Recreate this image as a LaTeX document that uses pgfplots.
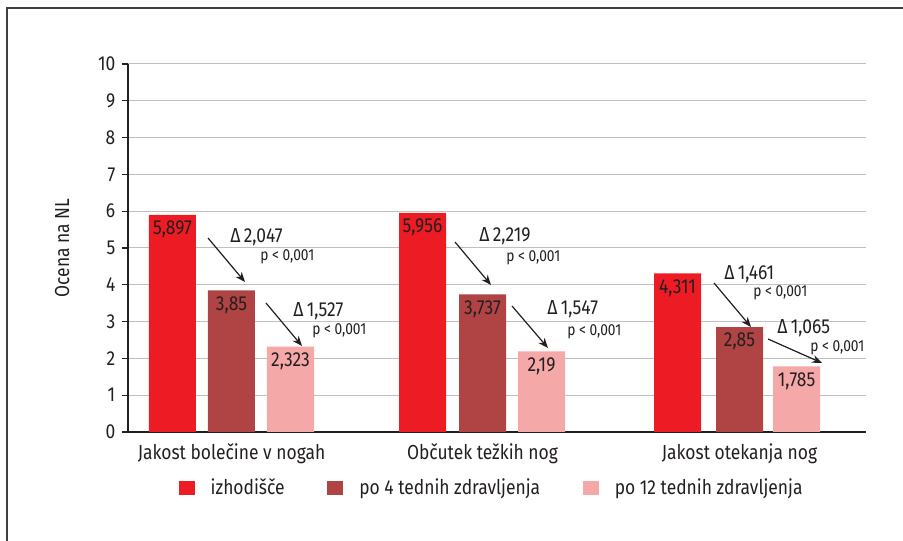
\documentclass[border=0pt]{standalone}
\usepackage{fontspec}
\setmainfont{Fira Sans}[FakeStretch=0.86]
\usepackage{pgfplots}
\pgfplotsset{compat=1.18}
\usetikzlibrary{arrows.meta}
\definecolor{cRed}{RGB}{237,28,36}
\definecolor{cDark}{RGB}{176,68,68}
\definecolor{cPink}{RGB}{245,168,168}
\definecolor{cText}{RGB}{35,31,32}
\definecolor{cGrid}{RGB}{192,192,192}
\newcommand\mf{\fontsize{15.2}{17}\selectfont}
\newcommand\smf{\fontsize{12}{14}\selectfont}
\begin{document}
\begin{tikzpicture}
\useasboundingbox (-96pt,-81.75pt) rectangle (581.25pt,324pt);
\draw[black!75,line width=1.1pt] (-90.75pt,-81.75pt) -- (-90.75pt,318pt) -- (581.25pt,318pt);
\begin{axis}[
  at={(0,0)}, anchor=south west,
  scale only axis, width=553.5pt, height=276pt,
  xmin=128, xmax=866, ymin=0, ymax=10,
  axis x line*=bottom, axis y line*=left,
  axis line style={-, cText},
  x axis line style={line width=1.7pt},
  y axis line style={line width=1.5pt},
  ytick={0,1,...,10},
  xtick={231.5,482.5,739.5},
  xticklabels={Jakost bolečine v nogah, Občutek težkih nog, Jakost otekanja nog},
  x tick style={draw=none},
  y tick style={cText, line width=0.8pt},
  tick align=outside, major tick length=4.5pt,
  ymajorgrids, grid style={cGrid, line width=0.75pt},
  tick label style={font=\mf, text=cText},
  yticklabel style={xshift=-1.5pt},
  xticklabel style={yshift=-1pt},
  /pgf/number format/assume math mode=true,
  ylabel={Ocena na NL},
  every axis y label/.style={at={(axis description cs:-0.0894,0.5)}, rotate=90, anchor=center, font=\mf, text=cText},
  ybar, bar width=47,
  nodes near coords, point meta=y,
  every node near coord/.append style={anchor=north, yshift=-1pt, font=\mf, text=cText,
    /pgf/number format/.cd, use comma, precision=3, 1000 sep={}},
  legend image code/.code={\fill[#1] (0pt,-5.5pt) rectangle (12pt,5.5pt);},
  legend columns=3,
  legend style={at={(0.4932,-0.152)}, anchor=center, draw=none, fill=none, font=\mf, text=cText,
    /tikz/every odd column/.append style={column sep=10pt},
    /tikz/every even column/.append style={column sep=30pt}},
]
\addplot[fill=cRed, draw=none, bar shift=0] coordinates {(172.5,5.897) (422.5,5.956) (677.5,4.311)};
\addplot[fill=cDark, draw=none, bar shift=0] coordinates {(231.5,3.85) (482.5,3.737) (739.5,2.85)};
\addplot[fill=cPink, draw=none, bar shift=0] coordinates {(290.5,2.323) (541.5,2.19) (796.5,1.785)};
\legend{izhodišče, po 4 tednih zdravljenja, po 12 tednih zdravljenja}
% annotations
\begin{scope}[cText, line width=0.9pt, -{Stealth[length=7.5pt,width=6pt]}]
\draw (axis cs:208,5.272) -- (axis cs:245,4.076);
\draw (axis cs:266,3.505) -- (axis cs:302,2.337);
\draw (axis cs:455,5.163) -- (axis cs:491,3.995);
\draw (axis cs:512,3.424) -- (axis cs:548,2.283);
\draw (axis cs:714,4.049) -- (axis cs:751,2.853);
\draw (axis cs:768,2.527) -- (axis cs:822,1.875);
\end{scope}
\begin{scope}[every node/.style={anchor=west, inner sep=0pt, text=cText}]
\node[font=\mf] at (axis cs:230,5.30) {Δ\,2,047};
\node[font=\smf] at (axis cs:260,4.755) {p < 0,001};
\node[font=\mf] at (axis cs:293,3.288) {Δ\,1,527};
\node[font=\smf] at (axis cs:312,2.745) {p < 0,001};
\node[font=\mf] at (axis cs:479,5.326) {Δ\,2,219};
\node[font=\smf] at (axis cs:506,4.728) {p < 0,001};
\node[font=\mf] at (axis cs:547,3.342) {Δ\,1,547};
\node[font=\smf] at (axis cs:567,2.717) {p < 0,001};
\node[font=\mf] at (axis cs:724,4.293) {Δ\,1,461};
\node[font=\smf] at (axis cs:753,3.777) {p < 0,001};
\node[font=\mf] at (axis cs:777,2.826) {Δ\,1,065};
\node[font=\smf] at (axis cs:810,2.283) {p < 0,001};
\end{scope}
\end{axis}
\end{tikzpicture}
\end{document}
